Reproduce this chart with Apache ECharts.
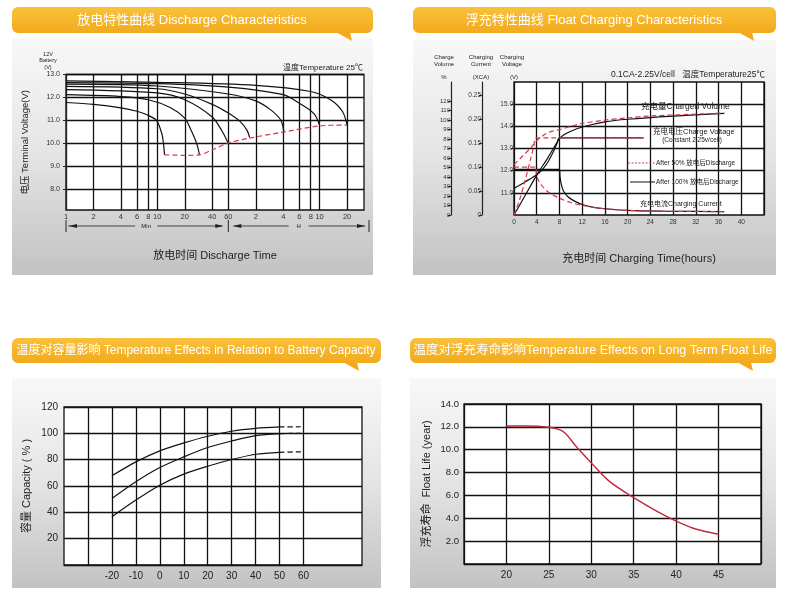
<!DOCTYPE html>
<html><head><meta charset="utf-8">
<script src="https://cdn.jsdelivr.net/npm/echarts@6/dist/echarts.min.js"></script>
<style>html,body{margin:0;padding:0;background:#fff}#c{width:786px;height:593px}</style>
</head><body><div id="c"></div>
<script>
// ===== Panel 1: Discharge characteristics (x: minutes, y: volts) =====
const dcTickMinutes = [1,2,4,6,8,10,20,40,60,120,240,360,480,600,1200];
const dcTickLabels  = ['1','2','4','6','8','10','20','40','60','2','4','6','8','10','20'];
const dcVoltTicks = [8,9,10,11,12,13];
const dc005 = [[1,12.72],[10,12.66],[120,12.53],[480,12.26],[790,11.9],[1070,11.39],[1200,10.8]];
const dc01  = [[1,12.65],[10,12.6],[60,12.45],[240,12.12],[360,11.75],[520,11.3],[600,10.8]];
const dc02  = [[1,12.58],[10,12.5],[60,12.15],[120,11.85],[175,11.46],[225,11.02],[244,10.5]];
const dc04  = [[1,12.48],[10,12.38],[20,12.15],[40,11.7],[60,11.32],[81,10.95],[96,10.58],[103,10.25]];
const dc06  = [[1,12.34],[10,12.2],[20,11.9],[40,11.15],[51,10.55],[60,10.0]];
const dc1   = [[1,12.12],[4,12.04],[8,11.9],[14,11.55],[20,11.1],[23,10.65],[27,10.0],[29,9.5]];
const dc2   = [[1,11.78],[2,11.7],[4,11.55],[6,11.4],[7.7,11.25],[9.8,11.0],[11.2,10.43],[11.7,9.99],[12,9.5]];
const dcEnd = [[12,9.5],[20,9.48],[29,9.5],[40,9.72],[60,10.02],[103,10.23],[244,10.5],[600,10.76],[1200,10.8]];
const dcRateLabels = [[12,9.23,'2C'],[30,9.23,'1C'],[73,9.68,'0.6C'],[122,9.93,'0.4C'],[262,10.22,'0.2C'],[618,10.48,'0.1C'],[1208,10.51,'0.05C']];

// ===== Panel 2: Float charging (x: hours) =====
const fcVoltTicks = [11,12,13,14,15];
const fcCurrTicks = [0,0.05,0.10,0.15,0.20,0.25];
const fcVolTicks = [0,10,20,30,40,50,60,70,80,90,100,110,120];
const volume100 = [[0,0],[2,21],[4,42],[6,60.7],[7.5,75.8],[8,80.5],[9,85.2],[10,88.2],[12,92.6],[16,98],[20,100.8],[28,104.1],[37,106.9]];
const volume50  = [[0,53],[1.65,62.8],[3.1,71.6],[4,78.2],[5.2,84],[6.35,87.5],[8,89.8],[10,93.3],[12,96.4],[16,99.9],[20,102.2],[24,104.3],[30,105.7],[37,107.3]];
const voltage100 = [[0,11.2],[2,11.5],[4,11.82],[5,12.05],[6,12.4],[7,12.9],[7.6,13.25],[8,13.48],[22.8,13.48]];
const voltage50  = [[0,10.0],[1,10.7],[2,11.6],[3,12.6],[3.5,13.1],[3.9,13.48],[22.8,13.48]];
const current100 = [[0,0.095],[8,0.095],[8.1,0.08],[8.3,0.065],[8.7,0.05],[9.5,0.038],[10.5,0.03],[12,0.022],[14,0.016],[16,0.013],[20,0.0095],[26,0.008],[37,0.007]];
const current50  = [[0,0.1],[3.8,0.1],[4,0.08],[5,0.06],[6,0.048],[7,0.041],[8,0.035],[10,0.026],[12,0.02],[16,0.013],[20,0.0095],[26,0.008],[37,0.007]];

// ===== Panel 3: Temperature vs capacity =====
const capTempTicks = [-30,-20,-10,0,10,20,30,40,50,60];
const capTempLabels = [-20,-10,0,10,20,30,40,50,60];
const capTicks = [20,40,60,80,100,120];
const cap01  = [[-20,67.7],[-10,78.3],[0,86.7],[10,92.7],[20,97.8],[30,101.6],[40,103.8],[50,104.9]];
const cap017 = [[-20,50.5],[-10,63.2],[0,74],[10,82.1],[20,89.2],[30,94.2],[40,98.3],[50,99.8]];
const cap025 = [[-20,36.6],[-10,49.3],[0,60.6],[10,69],[20,75],[30,80.1],[40,84.1],[50,85.6]];
const cap01Ext  = [[50,104.9],[59,105]];
const cap017Ext = [[50,99.8],[59,100]];
const cap025Ext = [[50,85.6],[59,86]];
const capLabels = [[61,106.6,'0.1CA'],[61,97.8,'0.17CA'],[59.7,84.1,'0.25CA']];

// ===== Panel 4: Temperature vs float life =====
const lifeTempLabels = [20,25,30,35,40,45];
const lifeTicks = [2,4,6,8,10,12,14];
const floatLife = [[20,12.07],[22.4,12.07],[25,11.97],[26.25,11.76],[27,11.4],[28.2,10.3],[30,8.85],[32.1,7.25],[35,5.8],[37.7,4.63],[40,3.76],[42.4,3.04],[45,2.6]];

// ---------------------------------------------------------------
const FONT = '"Liberation Sans","Noto Sans CJK SC",sans-serif';
const INK = '#222';
const RED = '#d8384e';
const gridLine = {show:true, lineStyle:{color:'#111', width:1.3}};
const lg = v => Math.log10(v);
const dcLabelFor = v => { const i = dcTickMinutes.findIndex(m => Math.abs(lg(m) - v) < 1e-6); return i >= 0 ? dcTickLabels[i] : ''; };
const toLog = arr => arr.map(p => [lg(p[0]), p[1]]);

const orangeFill = {type:'linear',x:0,y:0,x2:0,y2:1,colorStops:[{offset:0,color:'#f9c13c'},{offset:1,color:'#f2aa1c'}]};
const grayFill = {type:'linear',x:0,y:0,x2:0,y2:1,colorStops:[{offset:0,color:'#f8f8f8'},{offset:0.5,color:'#e4e4e4'},{offset:1,color:'#c2c2c2'}]};
function banner(x, y, w, h, tailX, title, cx, fs) {
  return [
    {type:'rect', z:-5, shape:{x:x, y:y, width:w, height:h, r:6}, style:{fill:orangeFill}},
    {type:'polygon', z:-5, shape:{points:[[tailX-14,y+h-1],[tailX+2,y+h+8],[tailX,y+h-1]]}, style:{fill:'#f2aa1c'}},
    {type:'text', z:5, x:cx, y:y+h/2, style:{text:title, fill:'#fff', fontSize:fs, fontFamily:FONT, align:'center', verticalAlign:'middle'}}
  ];
}
function panelBg(x, y, w, h) {
  return {type:'rect', z:-10, shape:{x:x, y:y, width:w, height:h}, style:{fill:grayFill}};
}
function txt(x, y, s, fs, align, extra) {
  return Object.assign({type:'text', z:5, x:x, y:y, style:{text:s, fill:INK, fontSize:fs, fontFamily:FONT, align:align||'left', verticalAlign:'middle'}}, extra||{});
}

const graphics = [].concat(
  [panelBg(12,38,361,237), panelBg(413,40,363,235), panelBg(12,378,369,210), panelBg(410,378,366,210)],
  banner(12,7,361,26,350,'放电特性曲线 Discharge Characteristics',192,13),
  banner(413,7,363,26,752,'浮充特性曲线 Float Charging Characteristics',594,13),
  banner(12,338,369,25,357,'温度对容量影响 Temperature Effects in Relation to Battery Capacity',196,12),
  banner(410,338,366,25,751,'温度对浮充寿命影响Temperature Effects on Long Term Float Life',593,12.5),
  [
    txt(48,54,'12V',5.5,'center'), txt(48,60.5,'Battery',5.5,'center'), txt(48,67,'(V)',5.5,'center'),
    txt(363,67.5,'温度Temperature 25℃',8,'right'),
    txt(444,57,'Charge',6,'center'), txt(444,64,'Volume',6,'center'), txt(444,77,'%',6,'center'),
    txt(481,57,'Charging',6,'center'), txt(481,64,'Current',6,'center'), txt(481,77,'(XCA)',6,'center'),
    txt(512,57,'Charging',6,'center'), txt(512,64,'Voltage',6,'center'), txt(514,77,'(V)',6,'center'),
    txt(611,75,'0.1CA-2.25V/cell',8.5,'left'), txt(765,75,'温度Temperature25℃',8.5,'right'),
    txt(641,107,'充电量Charged Volume',8.5,'left'),
    txt(653,132,'充电电压Charge Voltage',7.5,'left'),
    txt(692,140,'(Constant 2.25v/cell)',6.5,'center'),
    {type:'line', z:5, shape:{x1:628,y1:163,x2:655,y2:163}, style:{stroke:RED, lineWidth:1, lineDash:[2,1.5]}},
    txt(656,163,'After 50% 放电后Discharge',6.5,'left'),
    {type:'line', z:5, shape:{x1:630,y1:182,x2:655,y2:182}, style:{stroke:'#111', lineWidth:1}},
    txt(656,182,'After 100% 放电后Discharge',6.5,'left'),
    txt(640,204,'充电电流Charging Current',7,'left')
  ]
);

const lineS = (name, data, xi, yi, color, dashed, extra) => Object.assign({
  name:name, type:'line', xAxisIndex:xi, yAxisIndex:yi, data:data, showSymbol:false, symbol:'none',
  smooth:0.3, silent:true,
  lineStyle:{color:color, width:1.2, type: dashed ? [5,3] : 'solid'}
}, extra||{});

const option = {
  animation:false,
  backgroundColor:'#fff',
  textStyle:{fontFamily:FONT},
  graphic: graphics,
  grid: [
    {left:66, top:74.5, width:298, height:135.5, show:true, backgroundColor:'#fff', borderColor:'#111', borderWidth:1.3, outerBoundsMode:'none'},
    {left:514, top:82, width:250, height:133, show:true, backgroundColor:'#fff', borderColor:'#111', borderWidth:1.3, outerBoundsMode:'none'},
    {left:64, top:407, width:298, height:158, show:true, backgroundColor:'#fff', borderColor:'#111', borderWidth:1.3, outerBoundsMode:'none'},
    {left:464, top:404, width:297, height:160, show:true, backgroundColor:'#fff', borderColor:'#111', borderWidth:1.3, outerBoundsMode:'none'}
  ],
  xAxis: [
    {gridIndex:0, type:'value', min:0, max:lg(1840),
     axisLine:{show:false}, axisTick:{show:false, customValues:dcTickMinutes.map(lg)}, splitLine:gridLine,
     axisLabel:{customValues:dcTickMinutes.map(lg), formatter:dcLabelFor, fontSize:7.5, color:'#333', margin:3},
     name:'放电时间 Discharge Time', nameLocation:'middle', nameGap:40, nameTextStyle:{fontSize:11, color:INK}},
    {gridIndex:1, type:'value', min:0, max:44, interval:4,
     axisLine:{show:false}, axisTick:{show:false}, splitLine:gridLine,
     axisLabel:{showMaxLabel:false, fontSize:6.5, color:'#333', margin:4},
     name:'充电时间 Charging Time(hours)', nameLocation:'middle', nameGap:38, nameTextStyle:{fontSize:11, color:INK}},
    {gridIndex:2, type:'value', min:-40, max:84.4,
     axisLine:{show:false}, axisTick:{show:false, customValues:capTempTicks}, splitLine:gridLine,
     axisLabel:{customValues:capTempLabels, fontSize:10, color:INK, margin:6}},
    {gridIndex:3, type:'value', min:15, max:50, interval:5,
     axisLine:{show:false}, axisTick:{show:false}, splitLine:gridLine,
     axisLabel:{customValues:lifeTempLabels, fontSize:10, color:INK, margin:6}}
  ],
  yAxis: [
    {gridIndex:0, type:'value', min:7.1, max:13, offset:4,
     axisLine:{show:true, lineStyle:{color:'#222', width:1}},
     axisTick:{show:true, length:3, customValues:dcVoltTicks, lineStyle:{color:'#222'}},
     axisLabel:{customValues:dcVoltTicks, formatter:v=>v.toFixed(1), fontSize:7, color:'#333', margin:2},
     splitLine:gridLine,
     name:'电压 Terminal Voltage(V)', nameLocation:'middle', nameGap:32, nameTextStyle:{fontSize:9.5, color:INK}},
    {gridIndex:1, type:'value', min:10, max:16, position:'left',
     axisLine:{show:false},
     axisTick:{show:true, length:3, customValues:fcVoltTicks, lineStyle:{color:'#222'}},
     axisLabel:{customValues:fcVoltTicks, formatter:v=>v.toFixed(1), fontSize:6.5, color:'#333', margin:1},
     splitLine:gridLine},
    {gridIndex:1, type:'value', min:0, max:0.2775, position:'left', offset:32,
     axisLine:{show:true, lineStyle:{color:'#222', width:1.2}},
     axisTick:{show:true, length:3, customValues:fcCurrTicks, lineStyle:{color:'#222'}},
     axisLabel:{customValues:fcCurrTicks, formatter:v=> v===0 ? '0' : v.toFixed(2), fontSize:6.5, color:'#333', margin:1},
     splitLine:{show:false}},
    {gridIndex:1, type:'value', min:0, max:140, position:'left', offset:63,
     axisLine:{show:true, lineStyle:{color:'#222', width:1.2}},
     axisTick:{show:true, length:3, customValues:fcVolTicks, lineStyle:{color:'#222'}},
     axisLabel:{customValues:fcVolTicks, fontSize:6, color:'#333', margin:1},
     splitLine:{show:false}},
    {gridIndex:2, type:'value', min:0, max:120, interval:20,
     axisLine:{show:false}, axisTick:{show:false}, splitLine:gridLine,
     axisLabel:{customValues:capTicks, fontSize:10, color:INK, margin:6},
     name:'容量 Capacity ( % )', nameLocation:'middle', nameGap:32, nameTextStyle:{fontSize:11, color:INK}},
    {gridIndex:3, type:'value', min:0, max:14, interval:2,
     axisLine:{show:false}, axisTick:{show:false}, splitLine:gridLine,
     axisLabel:{customValues:lifeTicks, formatter:v=>v.toFixed(1), fontSize:9.5, color:INK, margin:5},
     name:'浮充寿命  Float Life (year)', nameLocation:'middle', nameGap:32, nameTextStyle:{fontSize:11, color:INK}}
  ],
  series: [
    lineS('0.05C', toLog(dc005), 0,0,'#111'),
    lineS('0.1C',  toLog(dc01), 0,0,'#111'),
    lineS('0.2C',  toLog(dc02), 0,0,'#111'),
    lineS('0.4C',  toLog(dc04), 0,0,'#111'),
    lineS('0.6C',  toLog(dc06), 0,0,'#111'),
    lineS('1C',    toLog(dc1), 0,0,'#111'),
    lineS('2C',    toLog(dc2), 0,0,'#111'),
    lineS('end voltage', toLog(dcEnd), 0,0,RED,true,{z:3}),
    {type:'scatter', xAxisIndex:0, yAxisIndex:0, silent:true, symbolSize:1, itemStyle:{opacity:0},
     data: dcRateLabels.map(d => [lg(d[0]), d[1], d[2]]),
     label:{show:true, position:'inside', formatter:p=>p.data[2], color:RED, fontSize:8.5, fontFamily:FONT}},

    lineS('Charged volume 100%', volume100, 1,3,'#111'),
    lineS('Charge voltage 100%', voltage100, 1,1,'#111'),
    lineS('Charging current 100%', current100, 1,2,'#111'),
    lineS('Charged volume 50%', volume50, 1,3,RED,true,{z:3}),
    lineS('Charge voltage 50%', voltage50, 1,1,RED,true,{z:3}),
    lineS('Charging current 50%', current50, 1,2,RED,true,{z:3}),

    lineS('0.1CA', cap01, 2,4,'#111'),
    lineS('0.17CA', cap017, 2,4,'#111'),
    lineS('0.25CA', cap025, 2,4,'#111'),
    lineS('0.1CA ext', cap01Ext, 2,4,'#111',true),
    lineS('0.17CA ext', cap017Ext, 2,4,'#111',true),
    lineS('0.25CA ext', cap025Ext, 2,4,'#111',true),
    {type:'scatter', xAxisIndex:2, yAxisIndex:4, silent:true, symbolSize:1, itemStyle:{opacity:0},
     data: capLabels,
     label:{show:true, position:'right', distance:0, formatter:p=>p.data[2], color:RED, fontSize:9.5, fontFamily:FONT}},

    lineS('Float life', floatLife, 3,5,'#c4283e',false,{lineStyle:{color:'#c4283e', width:1.4}})
  ]
};

const chart = echarts.init(document.getElementById('c'), null, {renderer:'canvas'});
chart.setOption(option);

// Min / H time-range arrows under the discharge axis
const px = v => chart.convertToPixel({xAxisIndex:0}, v);
const xL = px(lg(1)), xM = px(lg(60)), xR = px(lg(1840)) + 5, ya = 226;
function arrowHead(x, dir) { return {type:'polygon', z:5, shape:{points:[[x,ya],[x-dir*8,ya-2],[x-dir*8,ya+2]]}, style:{fill:'#222'}}; }
const extra = [
  {type:'line', id:'b1', z:5, shape:{x1:xL,y1:ya-6,x2:xL,y2:ya+6}, style:{stroke:'#222', lineWidth:1}},
  {type:'line', id:'b2', z:5, shape:{x1:xM,y1:ya-6,x2:xM,y2:ya+6}, style:{stroke:'#222', lineWidth:1}},
  {type:'line', id:'b3', z:5, shape:{x1:xR,y1:ya-6,x2:xR,y2:ya+6}, style:{stroke:'#222', lineWidth:1}},
  {type:'line', id:'m1', z:5, shape:{x1:xL+2,y1:ya,x2:(xL+xM)/2-12,y2:ya}, style:{stroke:'#222', lineWidth:0.8}},
  {type:'line', id:'m2', z:5, shape:{x1:(xL+xM)/2+10,y1:ya,x2:xM-6,y2:ya}, style:{stroke:'#222', lineWidth:0.8}},
  {type:'line', id:'h1', z:5, shape:{x1:xM+5,y1:ya,x2:(xM+xR)/2-10,y2:ya}, style:{stroke:'#222', lineWidth:0.8}},
  {type:'line', id:'h2', z:5, shape:{x1:(xM+xR)/2+10,y1:ya,x2:xR-4,y2:ya}, style:{stroke:'#222', lineWidth:0.8}},
  Object.assign({id:'a1'}, arrowHead(xL+3,-1)),
  Object.assign({id:'a2'}, arrowHead(xM-5,1)),
  Object.assign({id:'a3'}, arrowHead(xM+5,-1)),
  Object.assign({id:'a4'}, arrowHead(xR-4,1)),
  Object.assign({id:'t1'}, txt((xL+xM)/2-1, ya, 'Min', 6, 'center')),
  Object.assign({id:'t2'}, txt((xM+xR)/2, ya, 'H', 6, 'center'))
];
chart.setOption({graphic: graphics.concat(extra)});
</script>
</body></html>
